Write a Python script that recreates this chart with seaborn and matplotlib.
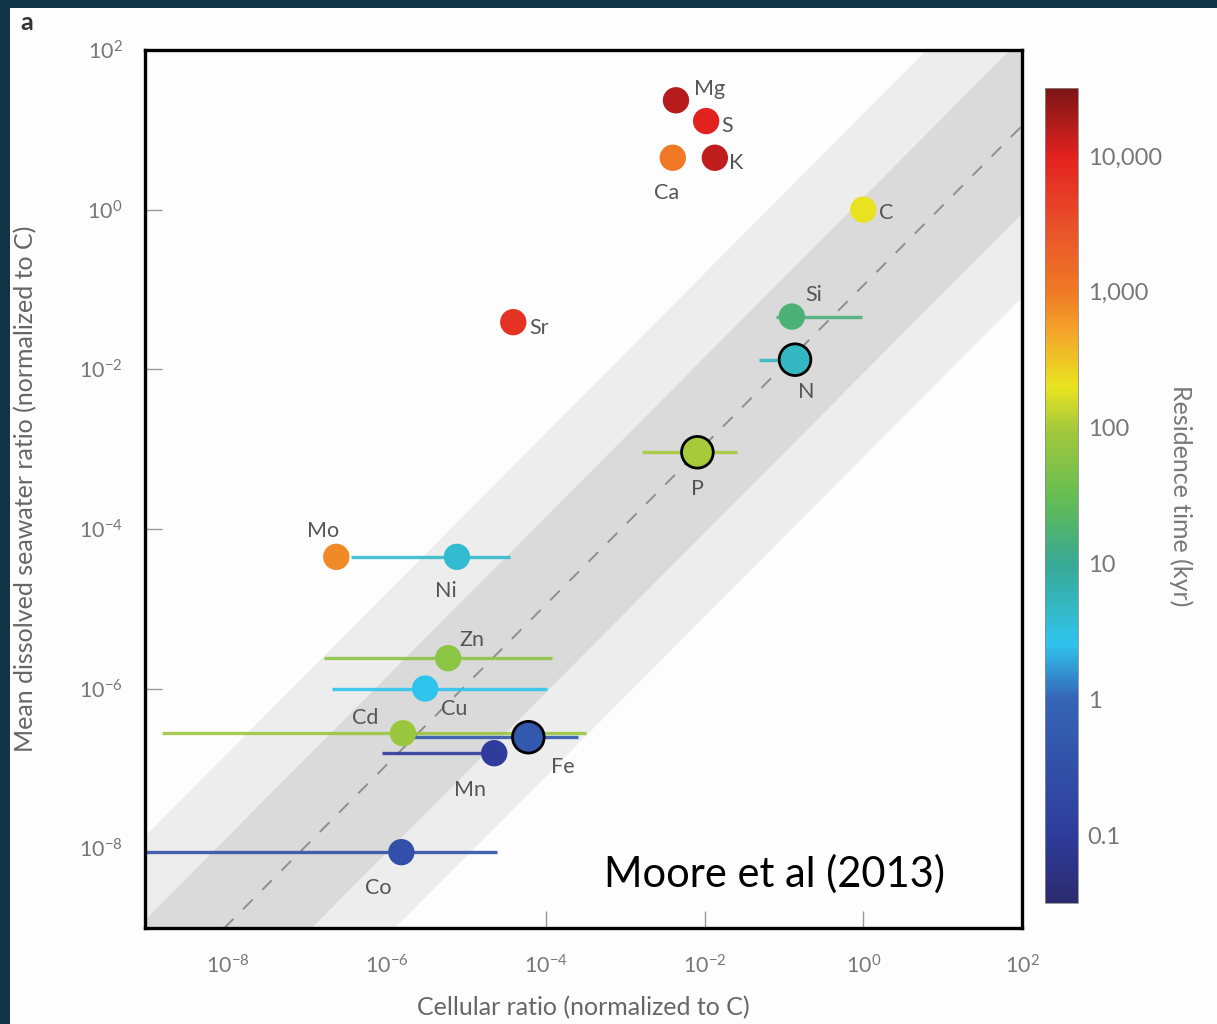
import numpy as np
import pandas as pd
import matplotlib
matplotlib.use("Agg")
import matplotlib.pyplot as plt
import seaborn as sns
from matplotlib.colors import LogNorm, LinearSegmentedColormap
from matplotlib.patches import Rectangle
from matplotlib.cm import ScalarMappable

# ---------------- data (log10 values) ----------------
elements = ["Mg", "S", "K", "Ca", "C", "Sr", "Si", "N", "P",
            "Mo", "Ni", "Zn", "Cu", "Cd", "Fe", "Mn", "Co"]
cellular_log = [-2.36, -1.98, -1.87, -2.40, 0.0, -4.41, -0.90, -0.86, -2.09,
                -6.64, -5.12, -5.23, -5.52, -5.80, -4.22, -4.65, -5.82]
seawater_log = [1.37, 1.11, 0.65, 0.65, 0.0, -1.41, -1.34, -1.88, -3.04,
                -4.35, -4.35, -5.62, -6.00, -6.56, -6.61, -6.81, -8.05]
err_lo_log = [np.nan, np.nan, np.nan, np.nan, np.nan, np.nan, -1.10, -1.31, -2.79,
              np.nan, -6.45, -6.79, -6.69, -8.83, -5.67, -6.06, -9.30]
err_hi_log = [np.nan, np.nan, np.nan, np.nan, np.nan, np.nan, -0.02, -0.80, -1.59,
              np.nan, -4.45, -3.92, -3.98, -3.49, -3.60, -4.65, -4.61]
residence_log = [4.2, 4.0, 4.15, 3.0, 2.3, 3.8, 1.2, 0.7, 2.0,
                 2.9, 0.6, 1.8, 0.4, 1.9, -0.3, -1.0, -0.5]
highlighted = ["N", "P", "Fe"]

# reference band around the 1:1-type line (log offsets)
band_center = -0.95
band_inner = 1.1
band_outer = 2.15

cbar_ticks = [0.1, 1, 10, 100, 1000, 10000]
cbar_ticklabels = ["0.1", "1", "10", "100", "1,000", "10,000"]
axis_ticks = [1e-8, 1e-6, 1e-4, 1e-2, 1e0, 1e2]

# label offsets in pixels (dx right, dy up) -- layout only
label_offsets = {
    "Mg": (34, 11), "S": (21, -5), "K": (21, -5), "Ca": (-6, -35),
    "C": (23, -3), "Sr": (26, -6), "Si": (22, 22), "N": (11, -32),
    "P": (0, -37), "Mo": (-13, 26), "Ni": (-11, -34), "Zn": (24, 18),
    "Cu": (29, -20), "Cd": (-38, 15), "Fe": (34, -30), "Mn": (-24, -37),
    "Co": (-23, -36),
}

df = pd.DataFrame({
    "element": elements,
    "cell": 10.0 ** np.array(cellular_log),
    "sea": 10.0 ** np.array(seawater_log),
    "lo": 10.0 ** np.array(err_lo_log),
    "hi": 10.0 ** np.array(err_hi_log),
    "res": 10.0 ** np.array(residence_log),
})

# ---------------- colormap ----------------
stops_log = [-1.5, -1.0, 0.0, 0.4, 1.0, 1.5, 2.0, 2.3, 2.7, 3.0, 3.5, 4.0, 4.5]
stop_cols = ["#2b2a6e", "#2f3c9c", "#3565b6", "#2fc4ee", "#38a993", "#66bd50",
             "#a6c93b", "#e9e420", "#f4a62a", "#ef7b24", "#e9502a", "#e3221f", "#7d1517"]
pos = [(p - stops_log[0]) / (stops_log[-1] - stops_log[0]) for p in stops_log]
cmap = LinearSegmentedColormap.from_list("res", list(zip(pos, stop_cols)))
norm = LogNorm(vmin=10 ** stops_log[0], vmax=10 ** stops_log[-1])

# ---------------- style ----------------
sns.set_theme(style="white")
plt.rcParams["font.family"] = ["Lato", "DejaVu Sans"]
plt.rcParams["mathtext.fontset"] = "custom"
plt.rcParams["mathtext.rm"] = "Lato"
plt.rcParams["mathtext.default"] = "regular"

W, H = 1217, 1024
fig = plt.figure(figsize=(W / 100, H / 100), dpi=100, facecolor="#0e3446")
bg = Rectangle((10 / W, 0), 1 - 10 / W, 1 - 8 / H, transform=fig.transFigure,
               facecolor="#fdfdfd", edgecolor="none", zorder=-10)
fig.patches.append(bg)

ax = fig.add_axes([145 / W, 96 / H, 877 / W, 878 / H])
ax.set_facecolor("#fdfdfd")
ax.set_xscale("log")
ax.set_yscale("log")
ax.set_xlim(10 ** -9.05, 1e2)
ax.set_ylim(1e-9, 1e2)

# bands
xb = np.logspace(-11, 4, 60)
ax.fill_between(xb, xb * 10 ** (band_center - band_outer), xb * 10 ** (band_center + band_outer),
                color="#ededed", lw=0, zorder=1)
ax.fill_between(xb, xb * 10 ** (band_center - band_inner), xb * 10 ** (band_center + band_inner),
                color="#dadada", lw=0, zorder=1)
ax.plot(xb, xb * 10 ** band_center, color="#8f8f8f", lw=1.4, dashes=(7, 7), zorder=2)

# error bars
for _, r in df.dropna(subset=["lo"]).iterrows():
    ax.hlines(r["sea"], r["lo"], r["hi"], color=cmap(norm(r["res"])), lw=2.4,
              alpha=0.9, zorder=3)

plain = df[~df["element"].isin(highlighted)]
hl = df[df["element"].isin(highlighted)]
sns.scatterplot(data=plain, x="cell", y="sea", hue="res", palette=cmap, hue_norm=norm,
                s=360, edgecolor="none", legend=False, ax=ax, zorder=4)
sns.scatterplot(data=hl, x="cell", y="sea", hue="res", palette=cmap, hue_norm=norm,
                s=520, edgecolor="black", linewidth=2, legend=False, ax=ax, zorder=5)

for _, r in df.iterrows():
    dx, dy = label_offsets[r["element"]]
    ax.annotate(r["element"], (r["cell"], r["sea"]), xytext=(dx * 0.72, dy * 0.72),
                textcoords="offset points", ha="center", va="center",
                fontsize=15.5, color="#555555", zorder=6)

ax.text(0.718, 0.062, "Moore et al (2013)", transform=ax.transAxes, ha="center",
        va="center", fontsize=30, color="black", zorder=7)

ax.set_xticks(axis_ticks)
ax.set_yticks(axis_ticks)
ax.minorticks_off()
ax.tick_params(axis="both", which="major", direction="in", length=12, width=1,
               color="#999999", labelcolor="#777777", labelsize=15.5, pad=16)
ax.tick_params(axis="x", bottom=True, top=False, pad=19)
ax.tick_params(axis="y", left=True, right=False)
for s in ax.spines.values():
    s.set_linewidth(2.4)
    s.set_color("black")
    s.set_zorder(8)

ax.set_xlabel("Cellular ratio (normalized to C)", fontsize=18, color="#666666", labelpad=13)
ax.set_ylabel("Mean dissolved seawater ratio (normalized to C)", fontsize=18,
              color="#666666", labelpad=30)
ax.grid(False)

# colorbar
cax = fig.add_axes([1045 / W, 121 / H, 33 / W, 815 / H])
sm = ScalarMappable(norm=norm, cmap=cmap)
cb = fig.colorbar(sm, cax=cax)
cb.set_ticks(cbar_ticks)
cb.set_ticklabels(cbar_ticklabels)
cb.ax.minorticks_off()
cb.outline.set_linewidth(0.6)
cb.outline.set_edgecolor("#888888")
cb.ax.tick_params(direction="in", length=5, width=1, color="#555555",
                  labelcolor="#777777", labelsize=17, pad=7)
cb.set_label("Residence time (kyr)", rotation=-90, fontsize=18, color="#777777", labelpad=22)

fig.text(20 / W, 1 - 22 / H, "a", fontsize=18, fontweight="bold", color="#333333",
         ha="left", va="center")

fig.savefig("out.png", dpi=100, facecolor=fig.get_facecolor())
